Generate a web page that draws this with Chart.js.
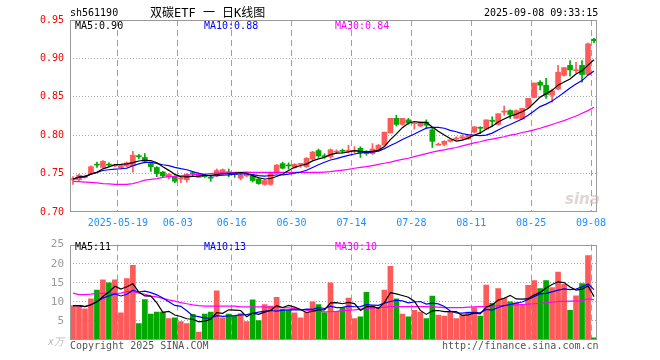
<!DOCTYPE html>
<html><head><meta charset="utf-8">
<script src="https://cdn.jsdelivr.net/npm/chart.js@4/dist/chart.umd.min.js"></script>
<style>
html,body{margin:0;padding:0;background:#fff;}
#wrap{position:relative;width:660px;height:360px;overflow:hidden;font-family:"DejaVu Sans Mono",monospace;font-size:10px;}
canvas{position:absolute;left:0;}
.t{position:absolute;white-space:nowrap;line-height:10px;}
</style></head><body>
<div id="wrap">
<canvas id="pc" width="660" height="232" style="top:0;width:660px;height:232px"></canvas>
<canvas id="vc" width="660" height="128" style="top:232px;width:660px;height:128px"></canvas>
<div class="t" style="left:70px;top:8px;color:#000">sh561190</div>
<div class="t" style="left:150px;top:7px;color:#000;font-size:12px;line-height:12px;font-family:'DejaVu Sans Mono','Noto Sans CJK SC',monospace">双碳ETF 一 日K线图</div>
<div class="t" style="left:484px;top:8px;color:#000">2025-09-08 09:33:15</div>
<div class="t" style="left:75px;top:21px;color:#000">MA5:0.90</div>
<div class="t" style="left:204px;top:21px;color:#0000ff">MA10:0.88</div>
<div class="t" style="left:335px;top:21px;color:#ff00ff">MA30:0.84</div>
<div class="t" style="left:75px;top:242px;color:#000">MA5:11</div>
<div class="t" style="left:204px;top:242px;color:#0000ff">MA10:13</div>
<div class="t" style="left:335px;top:242px;color:#ff00ff">MA30:10</div>
<div class="t" style="left:48px;top:337px;color:#bbb;font-style:italic">x万</div>
<div class="t" style="left:70px;top:341px;color:#555">Copyright 2025 SINA.COM</div>
<div class="t" style="left:442px;top:341px;color:#555">http://finance.sina.com.cn</div>
<div class="t" style="left:565px;top:190px;color:rgba(200,185,185,0.6);font:italic bold 15px 'DejaVu Sans',sans-serif">sina</div>
</div>
<script>
const dates = ['2025-05-07','2025-05-08','2025-05-09','2025-05-12','2025-05-13','2025-05-14','2025-05-15','2025-05-16',
'2025-05-19','2025-05-20','2025-05-21','2025-05-22','2025-05-23','2025-05-26','2025-05-27','2025-05-28','2025-05-29','2025-05-30',
'2025-06-03','2025-06-04','2025-06-05','2025-06-06','2025-06-09','2025-06-10','2025-06-11','2025-06-12','2025-06-13',
'2025-06-16','2025-06-17','2025-06-18','2025-06-19','2025-06-20','2025-06-23','2025-06-24','2025-06-25','2025-06-26','2025-06-27',
'2025-06-30','2025-07-01','2025-07-02','2025-07-03','2025-07-04','2025-07-07','2025-07-08','2025-07-09','2025-07-10','2025-07-11',
'2025-07-14','2025-07-15','2025-07-16','2025-07-17','2025-07-18','2025-07-21','2025-07-22','2025-07-23','2025-07-24','2025-07-25',
'2025-07-28','2025-07-29','2025-07-30','2025-07-31','2025-08-01','2025-08-04','2025-08-05','2025-08-06','2025-08-07','2025-08-08',
'2025-08-11','2025-08-12','2025-08-13','2025-08-14','2025-08-15','2025-08-18','2025-08-19','2025-08-20','2025-08-21','2025-08-22',
'2025-08-25','2025-08-26','2025-08-27','2025-08-28','2025-08-29','2025-09-01','2025-09-02','2025-09-03','2025-09-04','2025-09-05',
'2025-09-08'];
const tickDates = ['2025-05-19','2025-06-03','2025-06-16','2025-06-30','2025-07-14','2025-07-28','2025-08-11','2025-08-25','2025-09-08'];
const open = [0.742,0.742,0.745,0.750,0.762,0.758,0.762,0.760,0.757,0.760,
0.760,0.773,0.771,0.763,0.758,0.752,0.746,0.746,0.743,0.742,
0.751,0.745,0.747,0.745,0.747,0.750,0.752,0.750,0.744,0.747,
0.747,0.743,0.736,0.736,0.750,0.763,0.761,0.758,0.762,0.759,
0.769,0.780,0.773,0.772,0.778,0.780,0.779,0.779,0.783,0.779,
0.776,0.780,0.787,0.803,0.822,0.814,0.820,0.815,0.812,0.817,
0.807,0.787,0.788,0.792,0.795,0.796,0.795,0.804,0.810,0.808,
0.819,0.814,0.830,0.832,0.822,0.821,0.836,0.849,0.869,0.865,
0.852,0.860,0.878,0.891,0.884,0.891,0.879,0.925];
const high = [0.746,0.749,0.748,0.760,0.765,0.767,0.764,0.762,0.762,0.765,
0.779,0.775,0.776,0.765,0.759,0.753,0.750,0.747,0.746,0.750,
0.752,0.751,0.749,0.747,0.756,0.756,0.756,0.751,0.749,0.750,
0.749,0.745,0.742,0.752,0.762,0.765,0.764,0.763,0.763,0.771,
0.779,0.782,0.776,0.782,0.781,0.782,0.787,0.785,0.785,0.780,
0.789,0.788,0.804,0.822,0.826,0.822,0.822,0.816,0.817,0.820,
0.809,0.790,0.793,0.794,0.798,0.800,0.801,0.811,0.811,0.820,
0.824,0.828,0.838,0.833,0.833,0.835,0.848,0.868,0.871,0.874,
0.860,0.891,0.888,0.897,0.895,0.897,0.920,0.926];
const low = [0.736,0.740,0.744,0.749,0.758,0.757,0.759,0.759,0.756,0.759,
0.752,0.769,0.764,0.753,0.746,0.745,0.743,0.738,0.738,0.739,
0.746,0.745,0.745,0.740,0.746,0.749,0.746,0.745,0.742,0.746,
0.739,0.736,0.735,0.735,0.750,0.756,0.756,0.757,0.758,0.758,
0.768,0.771,0.770,0.770,0.776,0.777,0.777,0.777,0.771,0.774,
0.775,0.779,0.787,0.803,0.812,0.813,0.814,0.808,0.811,0.809,
0.784,0.787,0.786,0.791,0.794,0.794,0.795,0.803,0.802,0.808,
0.812,0.813,0.826,0.822,0.822,0.821,0.836,0.849,0.859,0.848,
0.843,0.859,0.877,0.877,0.881,0.869,0.879,0.920];
const close = [0.743,0.748,0.747,0.759,0.761,0.766,0.761,0.761,0.761,0.764,
0.774,0.772,0.766,0.759,0.750,0.747,0.749,0.740,0.744,0.749,
0.750,0.750,0.746,0.744,0.754,0.755,0.751,0.749,0.748,0.748,
0.741,0.737,0.741,0.751,0.761,0.757,0.760,0.762,0.763,0.770,
0.778,0.773,0.772,0.781,0.779,0.779,0.780,0.780,0.777,0.776,
0.782,0.787,0.804,0.822,0.814,0.822,0.816,0.815,0.817,0.813,
0.792,0.788,0.792,0.794,0.796,0.798,0.801,0.811,0.809,0.820,
0.818,0.828,0.831,0.827,0.832,0.835,0.848,0.868,0.865,0.853,
0.858,0.882,0.888,0.885,0.885,0.879,0.919,0.923];
const priceMA30 = [0.740,0.7395,0.739,0.7385,0.738,0.737,0.7365,0.736,0.736,0.736,
0.737,0.739,0.7415,0.7425,0.7435,0.745,0.746,0.7465,0.747,0.748,
0.7485,0.749,0.7495,0.750,0.7505,0.751,0.751,0.7515,0.7515,0.752,
0.7515,0.7515,0.7515,0.7515,0.7515,0.7515,0.7515,0.7515,0.7515,0.7515,
0.7515,0.7515,0.752,0.7525,0.7535,0.7545,0.7555,0.757,0.758,0.759,
0.7605,0.762,0.7635,0.765,0.767,0.7685,0.770,0.772,0.774,0.776,
0.778,0.7795,0.781,0.7825,0.784,0.786,0.788,0.790,0.7915,0.7935,
0.795,0.7965,0.798,0.800,0.8015,0.8035,0.805,0.807,0.809,0.8115,
0.814,0.8165,0.819,0.822,0.825,0.8285,0.832,0.8365];
const volume = [9.0,9.0,8.2,10.8,13.1,15.8,15.0,15.8,7.1,16.1,
19.6,4.3,10.6,6.8,7.3,7.3,5.6,5.8,4.8,4.3,
6.7,2.1,6.8,7.3,12.9,5.8,6.8,6.3,6.9,4.8,
10.5,5.1,9.3,8.9,11.2,8.1,7.8,7.1,5.8,7.2,
10.0,9.3,7.2,15.0,7.5,8.5,11.0,5.6,6.1,12.5,
8.9,8.3,13.1,19.3,10.8,6.8,6.1,7.75,7.3,5.6,
11.5,6.5,6.25,7.3,5.6,6.5,7.3,8.5,6.25,14.4,
9.6,13.5,11.0,10.0,9.75,9.2,14.3,15.6,13.5,15.6,
13.75,17.8,14.6,7.75,11.6,14.8,22.1,0.6];
const volumeMA30 = [12.3,11.9,11.9,12.0,12.2,12.2,12.2,12.2,12.3,12.7,
12.7,12.3,12.0,11.5,11.3,10.9,10.5,10.2,9.8,9.5,
9.2,9.0,8.9,8.9,8.9,8.9,8.9,8.9,8.7,8.7,
8.7,8.7,8.7,8.6,8.6,8.5,8.4,8.2,8.0,7.8,
7.6,7.5,7.4,7.4,7.5,7.7,7.8,7.9,8.1,8.2,
8.4,8.5,8.6,8.75,8.75,8.75,8.75,8.75,8.75,8.75,
8.7,8.6,8.5,8.5,8.5,8.5,8.6,8.7,8.75,8.8,
8.9,9.0,9.0,9.1,9.2,9.3,9.4,9.5,9.6,9.75,
9.9,10.1,10.1,10.2,10.2,10.3,10.8,10.6];

const RED = '#ff5a5a', GREEN = '#00a800';
const up = close.map((c, i) => c >= open[i]);
const colors = up.map(u => u ? RED : GREEN);
function movingAvg(arr, n) {
  return arr.map((_, i) => { const s = Math.max(0, i - n + 1); let t = 0; for (let j = s; j <= i; j++) t += arr[j]; return t / (i - s + 1); });
}
const showIdx = dates.map((d, i) => tickDates.includes(d) ? i : -1).filter(i => i >= 0);
const MONO = 'DejaVu Sans Mono';

function xScale(showLabels) {
  return {
    type: 'category', offset: true,
    grid: { offset: true, drawTicks: false, lineWidth: 1,
      color: ctx => (ctx.index !== undefined && ctx.type === 'tick' && showIdx.includes(ctx.index)) ? '#a0a0a0' : 'rgba(0,0,0,0)' },
    border: { display: false, dash: [6, 4] },
    ticks: { display: showLabels, autoSkip: false, maxRotation: 0, minRotation: 0, color: '#1e90ff',
      font: { family: MONO, size: 10 }, padding: 5, labelOffset: -3,
      callback: (v, i) => tickDates.includes(dates[i]) ? (i === showIdx[0] ? dates[i] : dates[i].slice(5)) : '' },
    afterFit: s => { s.height = showLabels ? 20 : 0; }
  };
}
const frame = { id: 'frame', afterDraw(c) {
  const { ctx, chartArea: a } = c;
  ctx.save(); ctx.strokeStyle = '#999'; ctx.lineWidth = 1;
  ctx.strokeRect(Math.round(a.left) + 0.5, Math.round(a.top) + 0.5, Math.round(a.right - a.left) - 1, Math.round(a.bottom - a.top) - 1);
  ctx.restore();
} };
function line(data, color) {
  return { type: 'line', data, borderColor: color, borderWidth: 1.2, pointRadius: 0, tension: 0, order: 0, fill: false };
}

new Chart(document.getElementById('pc'), {
  type: 'bar',
  data: {
    labels: dates,
    datasets: [
      line(movingAvg(close, 5), '#000000'),
      line(movingAvg(close, 10), '#0000ff'),
      line(priceMA30, '#ff00ff'),
      { type: 'bar', data: low.map((l, i) => [l, high[i]]), backgroundColor: colors, barThickness: 1, grouped: false, order: 2 },
      { type: 'bar', data: open.map((o, i) => [o, close[i]]), backgroundColor: colors, barThickness: 5, minBarLength: 1, grouped: false, order: 1 }
    ]
  },
  options: {
    responsive: false, animation: false, devicePixelRatio: 1, events: [],
    layout: { padding: { left: 0, right: 63, top: 20, bottom: 0 } },
    plugins: { legend: { display: false }, tooltip: { enabled: false } },
    scales: {
      x: xScale(true),
      y: { min: 0.70, max: 0.95,
        ticks: { stepSize: 0.05, color: '#ff0000', font: { family: MONO, size: 10 }, padding: 6, callback: v => Number(v).toFixed(2) },
        grid: { drawTicks: false, color: ctx => (ctx.tick && ctx.tick.value > 0.701 && ctx.tick.value < 0.949) ? '#aaaaaa' : 'rgba(0,0,0,0)' },
        border: { display: false, dash: [1, 2] },
        afterFit: s => { s.width = 70; } }
    }
  },
  plugins: [frame]
});

new Chart(document.getElementById('vc'), {
  type: 'bar',
  data: {
    labels: dates,
    datasets: [
      line(movingAvg(volume, 5), '#000000'),
      line(movingAvg(volume, 10), '#0000ff'),
      line(volumeMA30, '#ff00ff'),
      { type: 'bar', data: volume, backgroundColor: colors, barThickness: 5, grouped: false, order: 1 }
    ]
  },
  options: {
    responsive: false, animation: false, devicePixelRatio: 1, events: [],
    layout: { padding: { left: 0, right: 63, top: 8, bottom: 20 } },
    plugins: { legend: { display: false }, tooltip: { enabled: false } },
    scales: {
      x: xScale(false),
      y: { min: 0, max: 25,
        ticks: { stepSize: 5, color: '#999999', font: { family: MONO, size: 11 }, padding: 6, callback: v => v === 0 ? '' : v },
        grid: { drawTicks: false, color: ctx => (ctx.tick && ctx.tick.value > 0 && ctx.tick.value < 25) ? '#aaaaaa' : 'rgba(0,0,0,0)' },
        border: { display: false, dash: [1, 2] },
        afterFit: s => { s.width = 70; } }
    }
  },
  plugins: [frame]
});
</script>
</body></html>
